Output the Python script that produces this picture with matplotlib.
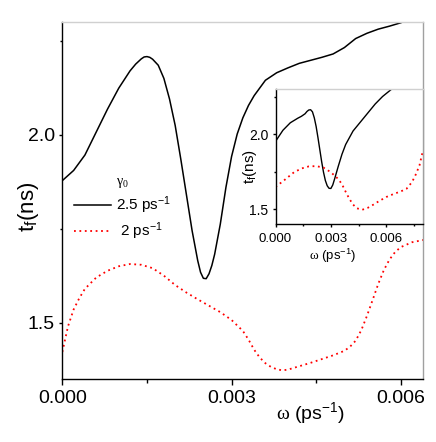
import matplotlib
matplotlib.use("Agg")
import matplotlib.pyplot as plt
from matplotlib.ticker import MultipleLocator, FormatStrFormatter

plt.rcParams['font.family'] = ['Liberation Sans', 'DejaVu Sans']
plt.rcParams['mathtext.fontset'] = 'custom'
plt.rcParams['mathtext.rm'] = 'Liberation Serif'
plt.rcParams['mathtext.it'] = 'Liberation Sans:italic'

# main panel, gamma0 = 2.5 ps^-1 (solid)
w_main_a = [0, 0.0002, 0.0004, 0.0006, 0.0008, 0.0010, 0.0012, 0.0013, 0.0014,
            0.00145, 0.0015, 0.00155, 0.0016, 0.0017, 0.0018, 0.0019, 0.0020,
            0.0021, 0.0022, 0.0023, 0.0024, 0.00245, 0.0025, 0.00255, 0.0026,
            0.00265, 0.0027, 0.0028, 0.0029, 0.0030, 0.0031, 0.0032, 0.0033,
            0.0034, 0.0036, 0.0038, 0.0040, 0.0042, 0.0044, 0.0046, 0.0048,
            0.0050, 0.0052, 0.0054, 0.0056, 0.0058, 0.0060, 0.0062]
t_main_a = [1.878, 1.905, 1.946, 2.007, 2.068, 2.124, 2.170, 2.188, 2.202,
            2.207, 2.208, 2.206, 2.201, 2.185, 2.150, 2.095, 2.025,
            1.935, 1.840, 1.745, 1.665, 1.634, 1.618, 1.617, 1.630,
            1.652, 1.682, 1.762, 1.860, 1.942, 2.002, 2.045, 2.078,
            2.104, 2.145, 2.165, 2.178, 2.190, 2.198, 2.206, 2.215,
            2.232, 2.256, 2.270, 2.281, 2.289, 2.298, 2.310]

# main panel, gamma0 = 2 ps^-1 (dotted)
w_main_b = [0, 0.0001, 0.0002, 0.0003, 0.0004, 0.0006, 0.0008, 0.0010, 0.0012,
            0.0014, 0.0016, 0.0018, 0.0020, 0.0022, 0.0024, 0.0026, 0.0028,
            0.0030, 0.0032, 0.0033, 0.0034, 0.0035, 0.0036, 0.0037, 0.0038,
            0.0039, 0.0040, 0.0042, 0.0044, 0.0046, 0.0048, 0.0050, 0.0051,
            0.0052, 0.0053, 0.0054, 0.0055, 0.0056, 0.0057, 0.0058, 0.0059,
            0.0060, 0.0062, 0.0064]
t_main_b = [1.422, 1.490, 1.535, 1.565, 1.590, 1.620, 1.638, 1.650, 1.656,
            1.654, 1.645, 1.625, 1.600, 1.580, 1.562, 1.545, 1.528,
            1.507, 1.478, 1.455, 1.428, 1.407, 1.392, 1.382, 1.376,
            1.373, 1.375, 1.384, 1.393, 1.403, 1.413, 1.425, 1.436,
            1.452, 1.480, 1.518, 1.560, 1.603, 1.640, 1.668, 1.688,
            1.701, 1.714, 1.720]

# inset
w_ins_a = [0, 0.0004, 0.0008, 0.0012, 0.0014, 0.0016, 0.0017, 0.0018, 0.0019,
           0.0020, 0.0021, 0.0022, 0.0023, 0.0024, 0.0025, 0.0026, 0.0027,
           0.0028, 0.0029, 0.0030, 0.0031, 0.0032, 0.0034, 0.0036,
           0.0038, 0.0042, 0.0046, 0.0050, 0.0054, 0.0058, 0.0064]
t_ins_a = [1.951, 2.025, 2.075, 2.105, 2.118, 2.135, 2.150, 2.160, 2.162,
           2.148, 2.108, 2.050, 1.975, 1.895, 1.815, 1.745, 1.690,
           1.655, 1.638, 1.637, 1.660, 1.700, 1.785, 1.865,
           1.930, 2.020, 2.080, 2.140, 2.200, 2.250, 2.310]
w_ins_b = [0, 0.0005, 0.0010, 0.0014, 0.0018, 0.0022, 0.0026, 0.0030, 0.0034,
           0.0036, 0.0038, 0.0040, 0.0042, 0.0044, 0.0047, 0.0050, 0.0053,
           0.0056, 0.0060, 0.0064, 0.0068, 0.0071, 0.0074, 0.0076, 0.0078,
           0.0080]
t_ins_b = [1.647, 1.695, 1.745, 1.770, 1.784, 1.786, 1.776, 1.745, 1.700,
           1.665, 1.615, 1.568, 1.530, 1.505, 1.495, 1.508, 1.529,
           1.552, 1.580, 1.600, 1.618, 1.635, 1.680, 1.730, 1.790,
           1.895]

labels = ['2.5 ps$^{\\mathregular{-1}}$', ' 2 ps$^{\\mathregular{-1}}$']
dot = (0, (1, 2))


def style_axes(ax, xfs, yfs, xmaj, ymaj):
    ax.spines['top'].set_color('#d0d0d0')
    ax.spines['right'].set_color('#a0a0a0')
    for s in ax.spines.values():
        s.set_linewidth(1.0)
    ax.xaxis.set_major_locator(MultipleLocator(0.003))
    ax.xaxis.set_minor_locator(MultipleLocator(0.0015))
    ax.yaxis.set_major_locator(MultipleLocator(0.5))
    ax.yaxis.set_minor_locator(MultipleLocator(0.25))
    ax.xaxis.set_major_formatter(FormatStrFormatter('%.3f'))
    ax.yaxis.set_major_formatter(FormatStrFormatter('%.1f'))
    ax.tick_params(axis='x', which='major', direction='out', length=xmaj,
                   width=1, labelsize=xfs, pad=4)
    ax.tick_params(axis='x', which='minor', direction='out', length=xmaj * 0.7,
                   width=1)
    ax.tick_params(axis='y', which='major', direction='out', length=ymaj,
                   width=1, labelsize=yfs, pad=3)
    ax.tick_params(axis='y', which='minor', direction='out', length=ymaj * 0.7,
                   width=1)


fig = plt.figure(figsize=(4.36, 4.42), dpi=100)
ax = fig.add_axes([0.143, 0.1425, 0.828, 0.8077])
la, = ax.plot(w_main_a, t_main_a, color='black', lw=1.1, label=labels[0])
lb, = ax.plot(w_main_b, t_main_b, color='red', lw=1.3, ls=dot, label=labels[1])
ax.set_xlim(0, 0.0064)
ax.set_ylim(1.35, 2.30)
style_axes(ax, 14, 14, 4, 2.5)

ax.set_xlabel('$\\mathrm{\\omega}$ (ps$^{\\mathregular{-1}}$)', fontsize=14)
ax.xaxis.set_label_coords(0.686, -0.06)
ax.set_ylabel('t$_{\\mathregular{f}}$(ns)', fontsize=16)
ax.yaxis.label.set_va('center')
ax.yaxis.set_label_coords(-0.095, 0.482)

leg = ax.legend(handles=[la, lb], title='$\\mathrm{\\gamma_0}$', loc='upper left',
                bbox_to_anchor=(0.032, 0.575), frameon=False, fontsize=11,
                handlelength=2.4, handletextpad=0.35, borderpad=0,
                borderaxespad=0, labelspacing=0.3)
leg.get_title().set_fontsize(10)

ins = fig.add_axes([0.632, 0.4932, 0.3385, 0.3054])
ins.set_facecolor('white')
ins.plot(w_ins_a, t_ins_a, color='black', lw=1.0)
ins.plot(w_ins_b, t_ins_b, color='red', lw=1.3, ls=dot)
ins.set_xlim(0, 0.008)
ins.set_ylim(1.40, 2.30)
style_axes(ins, 9.5, 10, 2.5, 2)
ins.set_xlabel('$\\mathrm{\\omega}$ (ps$^{\\mathregular{-1}}$)', fontsize=9.5)
ins.xaxis.set_label_coords(0.388, -0.17)
ins.set_ylabel('t$_{\\mathregular{f}}$(ns)', fontsize=11)
ins.yaxis.label.set_va('center')
ins.yaxis.set_label_coords(-0.175, 0.424)

fig.savefig('out.png', dpi=100)
